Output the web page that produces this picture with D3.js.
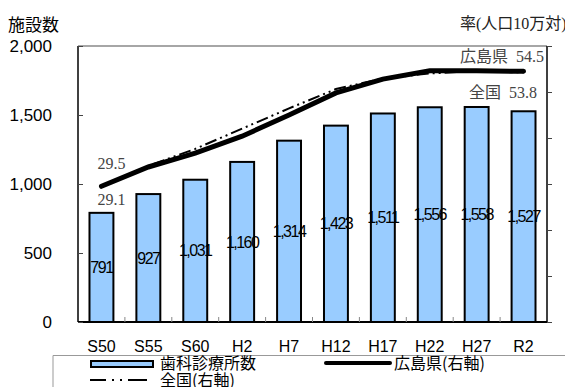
<!DOCTYPE html>
<html>
<head>
<meta charset="utf-8">
<script src="https://cdn.jsdelivr.net/npm/d3@7"></script>
<style>
  body { margin: 0; background: #fff; }
  svg { display: block; }
  .keep { white-space: pre; }
</style>
</head>
<body>
<div id="chart"></div>
<script>
// data
var years = ["S50", "S55", "S60", "H2", "H7", "H12", "H17", "H22", "H27", "R2"];
var clinics = [791, 927, 1031, 1160, 1314, 1423, 1511, 1556, 1558, 1527];
var hiroshimaRate = [29.5, 33.7, 36.7, 40.4, 45.0, 49.8, 52.8, 54.6, 54.6, 54.5];
var nationalRate = [29.1, 33.5, 37.2, 41.6, 46.0, 50.2, 52.5, 53.6, 54.1, 53.8];
var leftTicks = [0, 500, 1000, 1500, 2000];
var rightTicks = [0, 10, 20, 30, 40, 50, 60];

var W = 565, H = 387;
var margin = { top: 46, right: 18, bottom: 65, left: 78 },
    width = W - margin.left - margin.right,
    height = H - margin.top - margin.bottom;

var sans = "'Liberation Sans', Arial, 'Noto Sans CJK JP', sans-serif";
var cjk = "'Noto Sans CJK JP', sans-serif";
var serif = "'Liberation Serif', 'DejaVu Serif', 'Noto Sans CJK JP', serif";

var svg = d3.select("#chart")
    .append("svg")
    .attr("width", W)
    .attr("height", H);

var g = svg.append("g")
    .attr("transform", "translate(" + margin.left + "," + margin.top + ")");

// scales
var x = d3.scaleBand()
    .domain(years)
    .range([0, width])
    .paddingInner(0.49)
    .paddingOuter(0.245);

var y = d3.scaleLinear().domain([0, 2000]).range([height, 0]);
var y2 = d3.scaleLinear().domain([0, 60]).range([height, 0]);

// bars
g.selectAll(".bar")
    .data(clinics)
    .enter()
    .append("rect")
    .attr("x", function (d, i) { return x(years[i]); })
    .attr("y", function (d) { return y(d); })
    .attr("width", x.bandwidth())
    .attr("height", function (d) { return height - y(d); })
    .attr("fill", "#99ccff")
    .attr("stroke", "#000")
    .attr("stroke-width", 2);

// bar value labels
g.selectAll(".barlabel")
    .data(clinics)
    .enter()
    .append("text")
    .attr("x", function (d, i) { return x(years[i]) + x.bandwidth() / 2; })
    .attr("y", function (d) { return y(d / 2); })
    .attr("dy", "0.35em")
    .attr("text-anchor", "middle")
    .style("font-family", sans)
    .style("font-size", "16px")
    .style("letter-spacing", "-1.5px")
    .attr("fill", "#000")
    .text(function (d) { return d3.format(",")(d); });

// frame
g.append("line").attr("x1", 0).attr("x2", width).attr("y1", 0).attr("y2", 0)
    .attr("stroke", "#888").attr("stroke-width", 1.5);
g.append("line").attr("x1", 0).attr("x2", 0).attr("y1", 0).attr("y2", height)
    .attr("stroke", "#000").attr("stroke-width", 1.5);
g.append("line").attr("x1", width).attr("x2", width).attr("y1", 0).attr("y2", height)
    .attr("stroke", "#000").attr("stroke-width", 1.5);
g.append("line").attr("x1", 0).attr("x2", width).attr("y1", height).attr("y2", height)
    .attr("stroke", "#000").attr("stroke-width", 2);

// left axis
var left = g.append("g")
    .call(d3.axisLeft(y).tickValues(leftTicks).tickSize(-5).tickPadding(26).tickFormat(d3.format(",")));
left.select(".domain").remove();
left.selectAll("line").attr("stroke", "#444");
left.selectAll("text").style("font-family", sans).style("font-size", "17px").attr("fill", "#000");

// right axis (its labels sit just past the right edge of the picture)
var right = g.append("g")
    .attr("transform", "translate(" + width + ",0)")
    .call(d3.axisRight(y2).tickValues(rightTicks).tickSize(5).tickPadding(15));
right.select(".domain").remove();
right.selectAll("line").attr("stroke", "#444");
right.selectAll("text").style("font-family", sans).style("font-size", "16px").attr("fill", "#ccc");

// category boundary ticks and labels
g.selectAll(".sep")
    .data(years.slice(1))
    .enter()
    .append("line")
    .attr("x1", function (d) { return x(d) - x.step() * x.paddingInner() / 2; })
    .attr("x2", function (d) { return x(d) - x.step() * x.paddingInner() / 2; })
    .attr("y1", height)
    .attr("y2", height - 5)
    .attr("stroke", "#888");

g.selectAll(".xlabel")
    .data(years)
    .enter()
    .append("text")
    .attr("x", function (d) { return x(d) + x.bandwidth() / 2; })
    .attr("y", height + 30)
    .attr("text-anchor", "middle")
    .style("font-family", sans)
    .style("font-size", "16px")
    .attr("fill", "#000")
    .text(function (d) { return d; });

// lines
var cx = function (d, i) { return x(years[i]) + x.bandwidth() / 2; };

g.append("path")
    .datum(nationalRate)
    .attr("fill", "none")
    .attr("stroke", "#000")
    .attr("stroke-width", 2)
    .attr("stroke-dasharray", "12,4,2,4,2,4")
    .attr("d", d3.line().x(cx).y(function (d) { return y2(d) - 2; }));

g.append("path")
    .datum(hiroshimaRate)
    .attr("fill", "none")
    .attr("stroke", "#000")
    .attr("stroke-width", 5)
    .attr("stroke-linecap", "round")
    .attr("d", d3.line().x(cx).y(function (d) { return y2(d); }));

// line annotations
var first = x(years[0]) + x.bandwidth() / 2;
g.append("text")
    .attr("x", first - 4).attr("y", y2(hiroshimaRate[0]) - 17)
    .style("font-family", serif).style("font-size", "16px").attr("fill", "#444")
    .text(hiroshimaRate[0].toFixed(1));
g.append("text")
    .attr("x", first - 4).attr("y", y2(nationalRate[0]) + 17)
    .style("font-family", serif).style("font-size", "16px").attr("fill", "#444")
    .text(nationalRate[0].toFixed(1));
g.append("text")
    .attr("class", "keep")
    .attr("x", width - 3).attr("y", y2(hiroshimaRate[9]) - 9)
    .attr("text-anchor", "end")
    .style("font-family", serif).style("font-size", "16px").attr("fill", "#444")
    .text("広島県  " + hiroshimaRate[9].toFixed(1));
g.append("text")
    .attr("class", "keep")
    .attr("x", width - 10).attr("y", y2(nationalRate[9]) + 23)
    .attr("text-anchor", "end")
    .style("font-family", serif).style("font-size", "16px").attr("fill", "#444")
    .text("全国  " + nationalRate[9].toFixed(1));

// axis titles
svg.append("text")
    .attr("x", 8).attr("y", 31)
    .style("font-family", cjk).style("font-size", "17px").attr("fill", "#000")
    .text("施設数");
svg.append("text")
    .attr("x", 460).attr("y", 29)
    .style("font-family", serif).style("font-size", "16px").attr("fill", "#222")
    .text("率(人口10万対)");

// legend
var lg = svg.append("g");
lg.append("path")
    .attr("d", "M53," + H + "V355.5H" + W)
    .attr("fill", "none")
    .attr("stroke", "#999")
    .attr("stroke-width", 1);
lg.append("rect")
    .attr("x", 91).attr("y", 361).attr("width", 62).attr("height", 6)
    .attr("fill", "#99ccff").attr("stroke", "#000").attr("stroke-width", 2);
lg.append("text")
    .attr("x", 160).attr("y", 369)
    .style("font-family", cjk).style("font-size", "16px").attr("fill", "#000")
    .text("歯科診療所数");
lg.append("line")
    .attr("x1", 326).attr("x2", 390).attr("y1", 363).attr("y2", 363)
    .attr("stroke", "#000").attr("stroke-width", 4).attr("stroke-linecap", "round");
lg.append("text")
    .attr("x", 394).attr("y", 369)
    .style("font-family", cjk).style("font-size", "16px").attr("fill", "#000")
    .text("広島県(右軸)");
lg.append("line")
    .attr("x1", 90).attr("x2", 147).attr("y1", 380).attr("y2", 380)
    .attr("stroke", "#000").attr("stroke-width", 2)
    .attr("stroke-dasharray", "16,6,2,6,2,6,19");
lg.append("text")
    .attr("x", 160).attr("y", 386)
    .style("font-family", cjk).style("font-size", "16px").attr("fill", "#000")
    .text("全国(右軸)");
</script>
</body>
</html>
